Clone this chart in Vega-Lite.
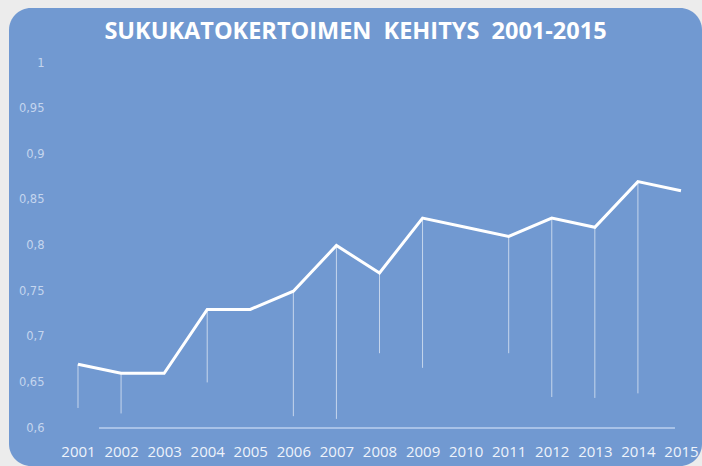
{
  "$schema": "https://vega.github.io/schema/vega-lite/v6.json",
  "width": 693,
  "height": 458,
  "autosize": "none",
  "padding": {"left": 9, "top": 8, "right": 0, "bottom": 0},
  "background": "#ececec",
  "config": {
    "view": {"fill": "#7199d1", "stroke": null, "cornerRadius": 22},
    "locale": {"number": {"decimal": ",", "thousands": "\u00a0", "grouping": [3], "currency": ["", " €"]}}
  },
  "title": {
    "text": "SUKUKATOKERTOIMEN\u00a0 KEHITYS\u00a0 2001-2015",
    "font": "Open Sans",
    "fontSize": 23.5,
    "fontWeight": "bold",
    "color": "#ffffff",
    "anchor": "middle",
    "frame": "group",
    "offset": -54,
    "baseline": "alphabetic"
  },
  "data": {
    "values": [
      {"year": 2001, "value": 0.67, "low": 0.622},
      {"year": 2002, "value": 0.66, "low": 0.616},
      {"year": 2003, "value": 0.66, "low": null},
      {"year": 2004, "value": 0.73, "low": 0.65},
      {"year": 2005, "value": 0.73, "low": null},
      {"year": 2006, "value": 0.75, "low": 0.613},
      {"year": 2007, "value": 0.80, "low": 0.61},
      {"year": 2008, "value": 0.77, "low": 0.682},
      {"year": 2009, "value": 0.83, "low": 0.666},
      {"year": 2010, "value": 0.82, "low": null},
      {"year": 2011, "value": 0.81, "low": 0.682},
      {"year": 2012, "value": 0.83, "low": 0.634},
      {"year": 2013, "value": 0.82, "low": 0.633},
      {"year": 2014, "value": 0.87, "low": 0.638},
      {"year": 2015, "value": 0.86, "low": null}
    ]
  },
  "layer": [
    {
      "mark": {"type": "rule", "color": "#a9c3e8", "strokeWidth": 1},
      "encoding": {
        "x": {"datum": 2001.5, "type": "quantitative"},
        "x2": {"datum": 2014.85},
        "y": {"datum": 0.6, "type": "quantitative"}
      }
    },
    {
      "transform": [{"filter": "datum.low != null"}],
      "mark": {"type": "rule", "color": "#ffffff", "strokeWidth": 1, "opacity": 0.6},
      "encoding": {
        "x": {"field": "year", "type": "quantitative"},
        "y": {"field": "value", "type": "quantitative"},
        "y2": {"field": "low"}
      }
    },
    {
      "mark": {"type": "line", "color": "#ffffff", "strokeWidth": 3},
      "encoding": {
        "x": {
          "field": "year",
          "type": "quantitative",
          "scale": {"domain": [1999.398, 2015.488], "nice": false, "zero": false},
          "axis": {
            "title": null,
            "values": [2001, 2002, 2003, 2004, 2005, 2006, 2007, 2008, 2009, 2010, 2011, 2012, 2013, 2014, 2015],
            "format": "d",
            "domain": false,
            "ticks": false,
            "tickSize": 0,
            "grid": false,
            "offset": -24,
            "labelPadding": 2,
            "labelFont": "Open Sans",
            "labelFontSize": 15,
            "labelColor": "#eef3fb",
            "labelFlush": false,
            "labelOverlap": false
          }
        },
        "y": {
          "field": "value",
          "type": "quantitative",
          "scale": {"domain": [0.5584, 1.0603], "nice": false, "zero": false},
          "axis": {
            "title": null,
            "values": [0.6, 0.65, 0.7, 0.75, 0.8, 0.85, 0.9, 0.95, 1],
            "format": "~g",
            "domain": false,
            "ticks": false,
            "tickSize": 0,
            "grid": false,
            "offset": -37,
            "labelPadding": 2,
            "labelFont": "DejaVu Sans",
            "labelFontSize": 11.5,
            "labelColor": "#c4d5ee",
            "labelOverlap": false
          }
        }
      }
    }
  ]
}
